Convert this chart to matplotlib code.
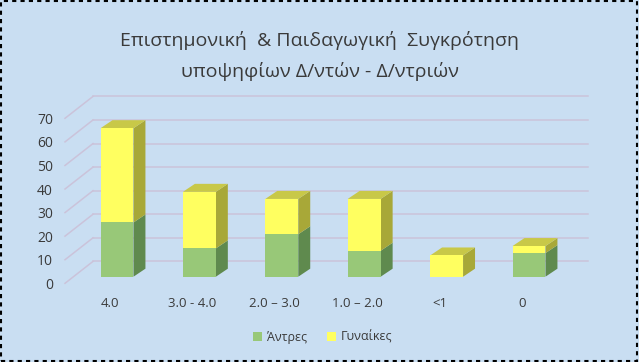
"""Stacked 3D-style bar chart: candidate background by gender."""

import matplotlib

matplotlib.use("Agg")

import matplotlib.pyplot as plt
from matplotlib.patches import Patch, Polygon, Rectangle

plt.rcParams["font.family"] = ["Open Sans", "DejaVu Sans"]

CATEGORIES = ["4.0", "3.0 - 4.0", "2.0 \u2013 3.0", "1.0 \u2013 2.0", "<1", "0"]
MEN = [23, 12, 18, 11, 0, 10]
WOMEN = [40, 24, 15, 22, 9, 3]
SERIES_NAMES = ["\u0386ντρες", "Γυναίκες"]
TITLE = "Επιστημονική  & Παιδαγωγική  Συγκρότηση\nυποψηφίων Δ/ντών - Δ/ντριών"
Y_TICKS = list(range(0, 80, 10))

BG = "#c9def2"
TEXT = "#3a3a3a"
GRID = "#cbc3da"
FRONT = {"men": "#98c878", "women": "#ffff60"}
SIDE = {"men": "#5f8a4e", "women": "#a8a838"}
TOP = {"men": "#7fa862", "women": "#c8c848"}

# perspective offsets (category units, value units)
WALL_DX, WALL_DY = 0.34, 9.3
BAR_SHIFT_X, BAR_SHIFT_Y = 0.085, 2.8
BAR_DX, BAR_DY = 0.145, 3.4
BAR_W = 0.40
WALL_LEFT = -0.546
WALL_RIGHT = 5.8


def box_faces(ax, xl, xr, y0, y1, key, draw_top):
    side = [(xr, y0), (xr + BAR_DX, y0 + BAR_DY), (xr + BAR_DX, y1 + BAR_DY), (xr, y1)]
    ax.add_patch(Polygon(side, closed=True, facecolor=SIDE[key], edgecolor="none", zorder=3))
    if draw_top:
        top = [(xl, y1), (xr, y1), (xr + BAR_DX, y1 + BAR_DY), (xl + BAR_DX, y1 + BAR_DY)]
        ax.add_patch(Polygon(top, closed=True, facecolor=TOP[key], edgecolor="none", zorder=3))


def main() -> None:
    fig = plt.figure(figsize=(6.39, 3.62), dpi=100, facecolor=BG)

    # axes placement in pixels: left 60, right 610, top 85, bottom 290
    px_per_cat, px_per_val = 82.4, 2.357
    left_px, right_px, top_px, bottom_px = 60, 610, 85, 290
    ax = fig.add_axes([
        left_px / 639, (362 - bottom_px) / 362,
        (right_px - left_px) / 639, (bottom_px - top_px) / 362,
    ])
    ax.set_facecolor("none")
    ax.set_xlim((left_px - 110) / px_per_cat, (right_px - 110) / px_per_cat)
    ax.set_ylim((283.3 - bottom_px) / px_per_val, (283.3 - top_px) / px_per_val)

    # walls: back-wall gridlines and side-wall diagonals
    for v in Y_TICKS:
        ax.plot([WALL_LEFT + WALL_DX, WALL_RIGHT], [v + WALL_DY, v + WALL_DY],
                color=GRID, lw=1.1, zorder=1)
        ax.plot([WALL_LEFT, WALL_LEFT + WALL_DX], [v, v + WALL_DY],
                color=GRID, lw=1.1, zorder=1)

    xs = [i + BAR_SHIFT_X for i in range(len(CATEGORIES))]
    ax.bar(xs, MEN, width=BAR_W, bottom=BAR_SHIFT_Y, color=FRONT["men"], zorder=4)
    base_w = [BAR_SHIFT_Y + m for m in MEN]
    ax.bar(xs, WOMEN, width=BAR_W, bottom=base_w, color=FRONT["women"], zorder=4)

    for x, m, w in zip(xs, MEN, WOMEN):
        xl, xr = x - BAR_W / 2, x + BAR_W / 2
        y0 = BAR_SHIFT_Y
        if m > 0:
            box_faces(ax, xl, xr, y0, y0 + m, "men", w == 0)
        if w > 0:
            box_faces(ax, xl, xr, y0 + m, y0 + m + w, "women", True)

    ax.set_yticks(Y_TICKS)
    ax.set_yticklabels([str(v) for v in Y_TICKS], fontsize=10, color=TEXT)
    ax.set_xticks(range(len(CATEGORIES)))
    ax.set_xticklabels(CATEGORIES, fontsize=9.5, color=TEXT)
    ax.tick_params(axis="y", length=0, pad=5)
    ax.tick_params(axis="x", length=0, pad=5)
    for spine in ax.spines.values():
        spine.set_visible(False)

    fig.text(0.5, 1 - 56 / 362, TITLE, ha="center", va="center", fontsize=14,
             color=TEXT, linespacing=1.8)

    handles = [Patch(facecolor=FRONT["men"]), Patch(facecolor=FRONT["women"])]
    fig.legend(handles, SERIES_NAMES, loc="center", bbox_to_anchor=(0.505, 1 - 337 / 362),
               ncol=2, frameon=False, fontsize=9, handlelength=0.7, handleheight=0.7,
               handletextpad=0.4, columnspacing=1.6, labelcolor=TEXT)

    fig.patches.append(Rectangle((0.002, 0.003), 0.995, 0.994, transform=fig.transFigure,
                                 fill=False, edgecolor="black", lw=1.5, linestyle=(0, (2, 2))))

    fig.savefig("out.png", dpi=100, facecolor=BG)
    plt.close(fig)


if __name__ == "__main__":
    main()
